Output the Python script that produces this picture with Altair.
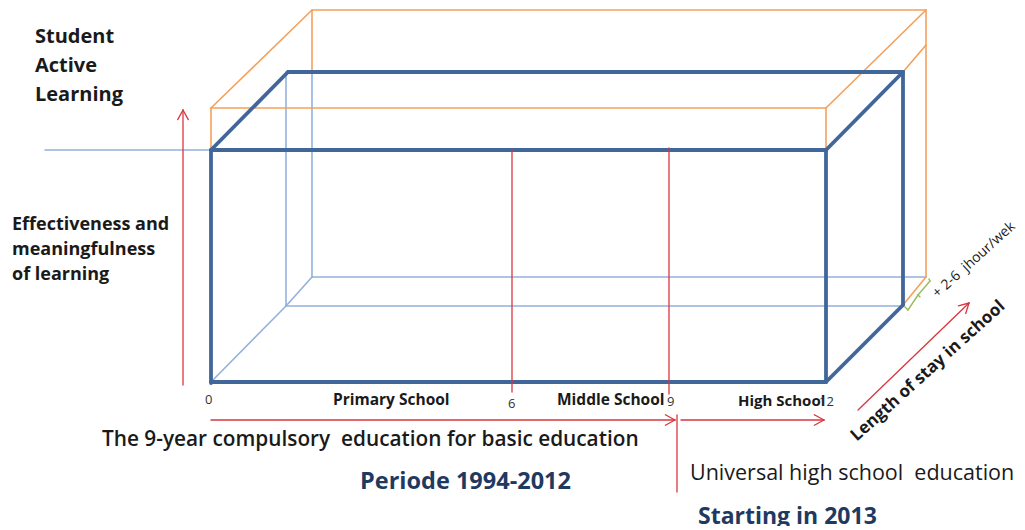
import math
import altair as alt
import pandas as pd

# ---------------- line segments of the diagram (image pixel coordinates) ----------------
seg_x1 = [45, 286, 211, 286, 312, 312, 312,
          211, 312, 312, 211, 211, 826, 826, 903, 926, 926,
          211, 211, 211, 826, 288, 211, 826, 903, 903,
          183, 512, 669, 211, 681, 677, 858]
seg_y1 = [150, 72, 382, 306, 72, 277, 277,
          108, 10, 10, 108, 108, 108, 108, 72, 10, 277,
          150, 382, 150, 150, 72, 150, 150, 72, 305,
          385, 150, 148, 420, 420, 415, 410]
seg_x2 = [211, 286, 286, 903, 312, 286, 926,
          312, 926, 312, 826, 211, 826, 926, 926, 926, 903,
          211, 826, 826, 826, 903, 288, 903, 903, 826,
          183, 512, 669, 675, 824, 677, 969]
seg_y2 = [150, 306, 306, 306, 277, 306, 277,
          10, 10, 72, 108, 150, 150, 10, 45, 277, 305,
          383, 382, 150, 382, 72, 72, 72, 305, 382,
          110, 392, 394, 420, 420, 492, 303]
seg_style = (["thin"] * 7 + ["orange"] * 10 + ["thick"] * 9 + ["red"] * 7)

# arrows: index of the red segment whose end (x2, y2) carries an open arrowhead
arrow_segments = [26, 29, 30, 32]

# curly bracket next to the "+ 2-6 jhour/wek" note
brace_x = [905, 908, 918, 920, 918, 930, 929]
brace_y = [307, 310, 295, 297, 295, 281, 279]

NB = "\u00a0"
# ---------------- texts ----------------
txt = [
    # text, x, y, size, weight, color, angle, align
    ("Student", 35, 37, 20, "bold", "#1a1a1a", 0, "left"),
    ("Active", 35, 66, 20, "bold", "#1a1a1a", 0, "left"),
    ("Learning", 35, 95, 20, "bold", "#1a1a1a", 0, "left"),
    ("Effectiveness and", 12, 225, 18, "bold", "#1a1a1a", 0, "left"),
    ("meaningfulness", 12, 250, 18, "bold", "#1a1a1a", 0, "left"),
    ("of learning", 12, 275, 18, "bold", "#1a1a1a", 0, "left"),
    ("0", 205, 400, 13, "normal", "#333333", 0, "left"),
    ("Primary School", 333, 400, 15.5, "bold", "#1a1a1a", 0, "left"),
    ("6", 508, 404, 13, "normal", "#333333", 0, "left"),
    ("Middle School", 557, 400, 15.5, "bold", "#1a1a1a", 0, "left"),
    ("9", 667, 402, 13, "normal", "#333333", 0, "left"),
    ("High School", 738, 401, 15, "bold", "#1a1a1a", 0, "left"),
    ("12", 819, 402, 13, "normal", "#333333", 0, "left"),
    ("The 9-year compulsory" + NB + " education for basic education", 102, 440, 20.8, "600", "#1a1a1a", 0, "left"),
    ("Periode 1994-2012", 360, 482, 23.5, "bold", "#1f3a60", 0, "left"),
    ("Universal high school" + NB + " education", 690, 474, 21.5, "normal", "#1a1a1a", 0, "left"),
    ("Starting in 2013", 698, 517, 23, "bold", "#1f3a60", 0, "left"),
    ("Length of stay in school", 928, 371, 17, "bold", "#1a1a1a", 318, "center"),
    ("+ 2-6" + NB + " jhour/wek", 974, 260, 14, "normal", "#1a1a1a", 318, "center"),
]

# ---------------- build tables ----------------
segs = pd.DataFrame({"x1": seg_x1, "y1": seg_y1, "x2": seg_x2, "y2": seg_y2, "style": seg_style})

heads = []
for i in arrow_segments:
    x1, y1, x2, y2 = seg_x1[i], seg_y1[i], seg_x2[i], seg_y2[i]
    ang = math.atan2(y1 - y2, x1 - x2)
    for d in (-0.5, 0.5):
        heads.append({"x1": x2, "y1": y2,
                      "x2": x2 + 11 * math.cos(ang + d),
                      "y2": y2 + 11 * math.sin(ang + d), "style": "red"})
brace = [{"x1": brace_x[k], "y1": brace_y[k], "x2": brace_x[k + 1], "y2": brace_y[k + 1], "style": "green"}
         for k in range(len(brace_x) - 1) if k != 3]

lines = pd.concat([segs, pd.DataFrame(heads), pd.DataFrame(brace)], ignore_index=True)

xs = alt.Scale(domain=[8, 1017], nice=False, zero=False)
ys = alt.Scale(domain=[8, 526], nice=False, zero=False, reverse=True)

styles = [("thin", "#93b1dc", 1.6), ("orange", "#f5a05a", 1.6), ("thick", "#41679a", 3.8),
          ("red", "#d9363e", 1.3), ("green", "#9bbb59", 1.4)]

layers = []
for name, col, w in styles:
    layers.append(
        alt.Chart(lines[lines["style"] == name]).mark_rule(
            strokeCap="round", color=col, strokeWidth=w).encode(
            x=alt.X("x1:Q", scale=xs, axis=None),
            x2="x2:Q",
            y=alt.Y("y1:Q", scale=ys, axis=None),
            y2="y2:Q",
        )
    )

tdf = pd.DataFrame(txt, columns=["text", "x", "y", "size", "weight", "color", "angle", "align"])

for (w, a), g in tdf.groupby(["weight", "align"]):
    fw = int(w) if w.isdigit() else w
    layers.append(
        alt.Chart(g).mark_text(font="Open Sans", fontWeight=fw, align=a, baseline="middle").encode(
            x=alt.X("x:Q", scale=xs, axis=None),
            y=alt.Y("y:Q", scale=ys, axis=None),
            text="text:N",
            size=alt.Size("size:Q", scale=None, legend=None),
            color=alt.Color("color:N", scale=None, legend=None),
            angle=alt.Angle("angle:Q", scale=None),
        )
    )

chart = alt.layer(*layers).properties(
    width=1009, height=518, padding=0, autosize=alt.AutoSizeParams(type="none"),
    background="white",
).configure_view(stroke=None)

chart.save("out.html", embed_options={"renderer": "svg", "actions": False})
